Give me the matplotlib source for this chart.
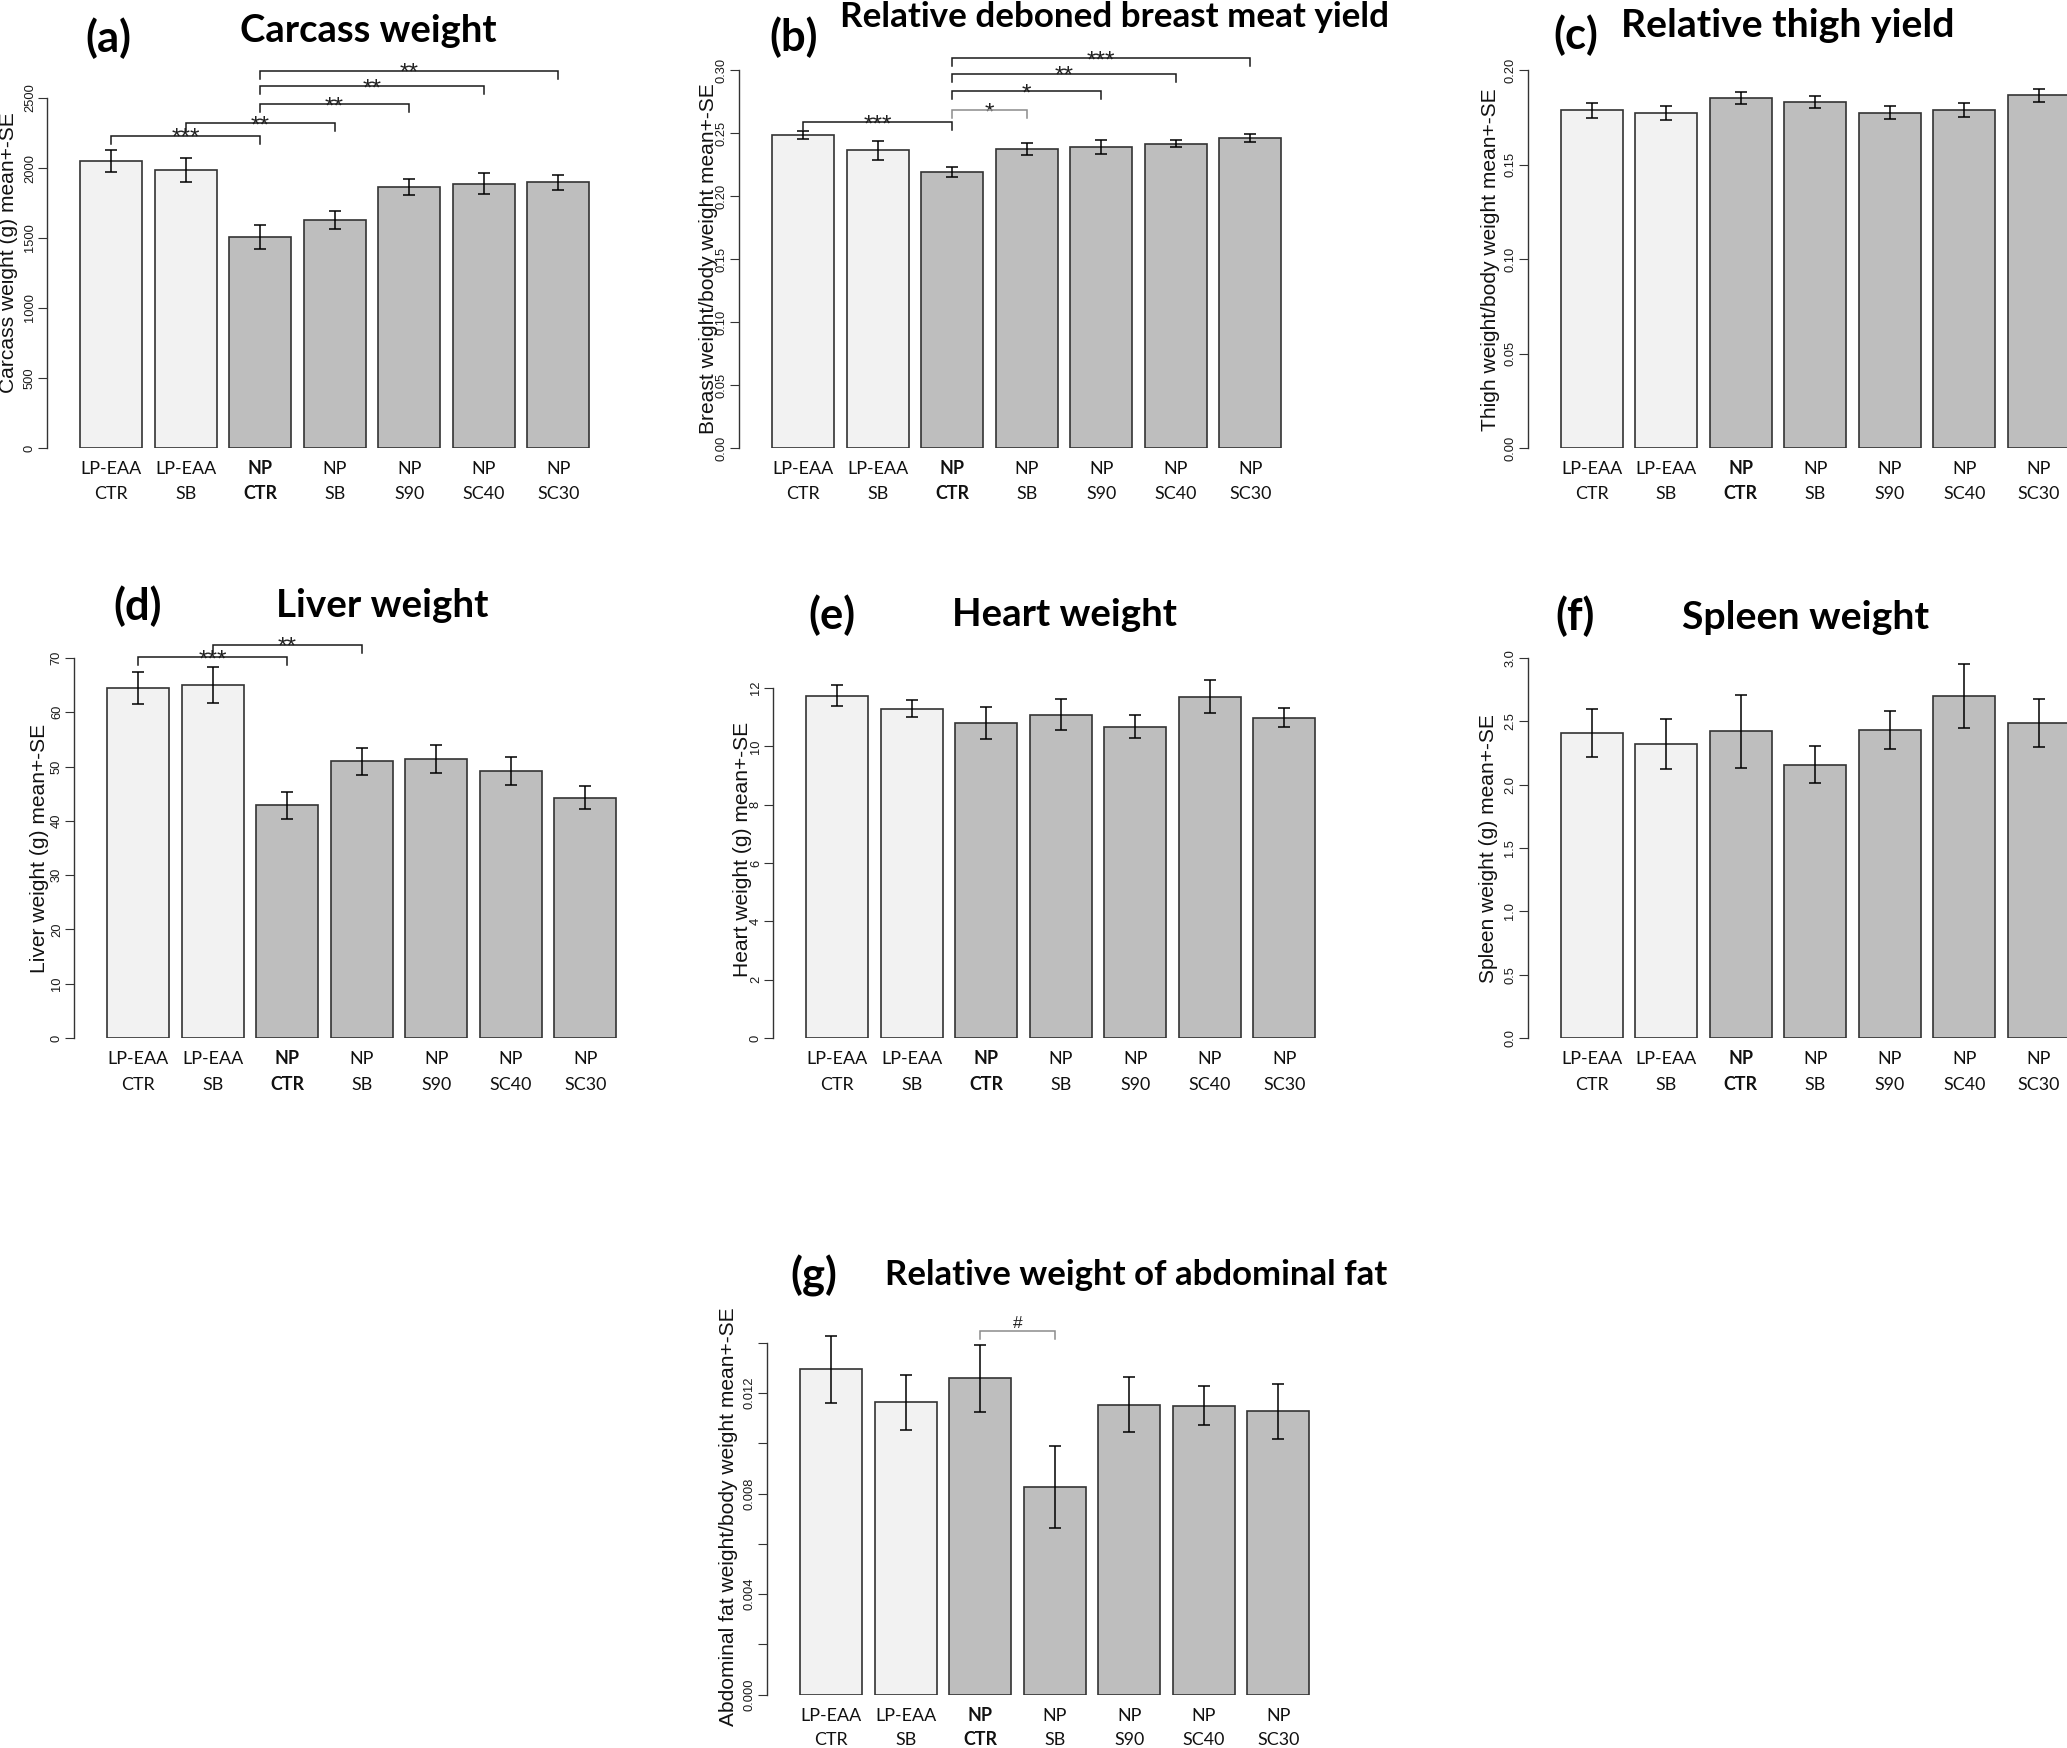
import matplotlib
matplotlib.use("Agg")
import matplotlib.pyplot as plt
from matplotlib import transforms
from matplotlib.font_manager import FontProperties, findfont
from matplotlib.textpath import TextToPath
import numpy as np

# ---------------- data ----------------
group_line1 = ["LP-EAA", "LP-EAA", "NP", "NP", "NP", "NP", "NP"]
group_line2 = ["CTR", "SB", "CTR", "SB", "S90", "SC40", "SC30"]
bold_group = 2  # NP CTR

carcass_mean = [2050, 1986, 1506, 1628, 1862, 1889, 1897]
carcass_se = [79, 88, 87, 66, 58, 74, 52]

breast_mean = [0.2487, 0.2363, 0.2189, 0.2371, 0.2389, 0.2416, 0.2461]
breast_se = [0.0032, 0.0077, 0.0038, 0.0049, 0.0054, 0.0025, 0.0035]

thigh_mean = [0.1787, 0.1774, 0.1854, 0.1831, 0.1774, 0.1787, 0.1866]
thigh_se = [0.0039, 0.0037, 0.0032, 0.0031, 0.0033, 0.0038, 0.0033]

liver_mean = [64.5, 65.1, 42.9, 51.0, 51.4, 49.2, 44.3]
liver_se = [2.9, 3.3, 2.5, 2.5, 2.55, 2.6, 2.05]

heart_mean = [11.74, 11.29, 10.80, 11.09, 10.68, 11.70, 10.98]
heart_se = [0.35, 0.30, 0.55, 0.54, 0.41, 0.57, 0.32]

spleen_mean = [2.406, 2.324, 2.420, 2.159, 2.434, 2.700, 2.485]
spleen_se = [0.19, 0.197, 0.29, 0.145, 0.15, 0.25, 0.19]

fat_mean = [0.01295, 0.01164, 0.01260, 0.00828, 0.01155, 0.01151, 0.01128]
fat_se = [0.00132, 0.0011, 0.00134, 0.00163, 0.0011, 0.00077, 0.00109]

carcass_ticks = [0, 500, 1000, 1500, 2000, 2500]
carcass_ticklabels = ["0", "500", "1000", "1500", "2000", "2500"]
breast_ticks = [0.00, 0.05, 0.10, 0.15, 0.20, 0.25, 0.30]
breast_ticklabels = ["0.00", "0.05", "0.10", "0.15", "0.20", "0.25", "0.30"]
thigh_ticks = [0.00, 0.05, 0.10, 0.15, 0.20]
thigh_ticklabels = ["0.00", "0.05", "0.10", "0.15", "0.20"]
liver_ticks = [0, 10, 20, 30, 40, 50, 60, 70]
liver_ticklabels = ["0", "10", "20", "30", "40", "50", "60", "70"]
heart_ticks = [0, 2, 4, 6, 8, 10, 12]
heart_ticklabels = ["0", "2", "4", "6", "8", "10", "12"]
spleen_ticks = [0.0, 0.5, 1.0, 1.5, 2.0, 2.5, 3.0]
spleen_ticklabels = ["0.0", "0.5", "1.0", "1.5", "2.0", "2.5", "3.0"]
fat_ticks = [0.000, 0.002, 0.004, 0.006, 0.008, 0.010, 0.012, 0.014]
fat_ticklabels = ["0.000", "", "0.004", "", "0.008", "", "0.012", ""]

# significance brackets: (from group, to group, height, label)
carcass_sig = [(0, 2, 2231, "***"), (1, 3, 2321, "**"), (2, 4, 2457, "**"),
               (2, 5, 2583, "**"), (2, 6, 2695, "**")]
breast_sig = [(0, 2, 0.2585, "***"), (2, 3, 0.2680, "*"), (2, 4, 0.2831, "*"),
              (2, 5, 0.2971, "**"), (2, 6, 0.3095, "***")]
liver_sig = [(0, 2, 70.13, "***"), (1, 3, 72.44, "**")]
fat_sig = [(2, 3, 0.014464, "#")]

titles = ["Carcass weight", "Relative deboned breast meat yield", "Relative thigh yield",
          "Liver weight", "Heart weight", "Spleen weight", "Relative weight of abdominal fat"]
panel_letters = ["(a)", "(b)", "(c)", "(d)", "(e)", "(f)", "(g)"]
ylabels = ["Carcass weight (g) mean+-SE", "Breast weight/body weight mean+-SE",
           "Thigh weight/body weight mean+-SE", "Liver weight (g) mean+-SE",
           "Heart weight (g) mean+-SE", "Spleen weight (g) mean+-SE",
           "Abdominal fat weight/body weight mean+-SE"]

# ---------------- layout / style ----------------
W, H = 2067, 1748
DPI = 100
plt.rcParams['font.family'] = ['Liberation Sans', 'DejaVu Sans']

fig = plt.figure(figsize=(W / DPI, H / DPI), dpi=DPI)
fig.patch.set_facecolor('white')

ttp = TextToPath()
PX_PER_PT = DPI / 72.0


def fit_size(s, family, weight, target_px):
    prop = FontProperties(family=family, weight=weight, size=10)
    w, h, d = ttp.get_text_width_height_descent(s, prop, ismath=False)
    return 10.0 * target_px / (w * PX_PER_PT)


def fx(px):
    return px / W


def fy(py):
    return 1.0 - py / H


# tick-label font: narrow sans if present (the reference's rotated labels look condensed)
try:
    findfont(FontProperties(family='Liberation Sans Narrow'), fallback_to_default=False)
    TICKFONT = 'Liberation Sans Narrow'
    tick_size = 10.2
except Exception:
    TICKFONT = 'Liberation Sans'
    tick_size = 9.3

UNIT = 62.1          # pixels per bar unit (R barplot: width 1, space 0.2)
LIGHT = '#F2F2F2'
DARK = '#BEBEBE'
EDGE = '#333333'
xpos = [0.7 + 1.2 * i for i in range(7)]
bar_colors = [LIGHT, LIGHT, DARK, DARK, DARK, DARK, DARK]

XFONT = 'Lato'
xl_size = fit_size("LP-EAA", XFONT, 'normal', 61)
ylab_sizes = []
ylab_spec = [(9, 253, 267), (708, 259, 348), (1490, 260, 344), (40, 848, 250),
             (742, 849, 255), (1488, 849, 270), (728, 1517, 415)]
for lab, (cx, cy, L) in zip(ylabels, ylab_spec):
    ylab_sizes.append(fit_size(lab, 'Liberation Sans', 'normal', L))
ylab_size = float(np.median(ylab_sizes))

letter_size = fit_size("(a)", 'Lato', 'bold', 46)

# panel geometry: axis x, zero pixel, top-tick pixel, top value, label line pixels
panels = [
    dict(ax_x=47, y0=448, ytop=98, vtop=2500, lines=(468, 493)),
    dict(ax_x=739, y0=448, ytop=70, vtop=0.30, lines=(468, 493)),
    dict(ax_x=1527.5, y0=448, ytop=70, vtop=0.20, lines=(468, 493)),
    dict(ax_x=74, y0=1038, ytop=658, vtop=70, lines=(1058, 1084)),
    dict(ax_x=773, y0=1038, ytop=688, vtop=12, lines=(1058, 1084)),
    dict(ax_x=1527.5, y0=1038, ytop=658, vtop=3.0, lines=(1058, 1084)),
    dict(ax_x=767, y0=1694.5, ytop=1343, vtop=0.014, lines=(1715, 1739)),
]
means = [carcass_mean, breast_mean, thigh_mean, liver_mean, heart_mean, spleen_mean, fat_mean]
ses = [carcass_se, breast_se, thigh_se, liver_se, heart_se, spleen_se, fat_se]
ticks = [carcass_ticks, breast_ticks, thigh_ticks, liver_ticks, heart_ticks, spleen_ticks, fat_ticks]
ticklabels = [carcass_ticklabels, breast_ticklabels, thigh_ticklabels, liver_ticklabels,
              heart_ticklabels, spleen_ticklabels, fat_ticklabels]
sigs = [carcass_sig, breast_sig, None, liver_sig, None, None, fat_sig]
grey_brackets = {(1, 1), (6, 0)}   # (panel, bracket index) drawn in grey

title_spec = [(368.5, 28, 257), (1114, 14, 548), (1788, 23.5, 333), (382, 603, 212),
              (1064, 612, 225), (1806, 615, 247), (1136, 1273, 503)]
letter_spec = [(108.5, 38), (793.5, 37), (1576, 35), (137.5, 606), (831.5, 615),
               (1575, 616), (813.5, 1276)]

for k, p in enumerate(panels):
    bar1_left = p['ax_x'] + 33
    xmin = 0.2 - 33 / UNIT
    xmax = 8.6
    right_px = bar1_left + (xmax - 0.2) * UNIT
    ax = fig.add_axes([fx(p['ax_x']), fy(p['y0']), (right_px - p['ax_x']) / W,
                       (p['y0'] - p['ytop']) / H])
    ax.set_xlim(xmin, xmax)
    ax.set_ylim(0, p['vtop'])
    ax.patch.set_alpha(0)

    ax.bar(xpos, means[k], width=1.0, color=bar_colors, edgecolor=EDGE,
           linewidth=1.2, zorder=2)
    eb = ax.errorbar(xpos, means[k], yerr=ses[k], fmt='none', ecolor='black',
                     elinewidth=1.1, capsize=4, capthick=1.1, zorder=3)
    for a in eb.get_children():
        a.set_clip_on(False)

    for s in ['top', 'right', 'bottom']:
        ax.spines[s].set_visible(False)
    ax.spines['left'].set_color(EDGE)
    ax.spines['left'].set_linewidth(1.0)
    ax.spines['left'].set_bounds(0, p['vtop'])
    ax.set_xticks([])
    ax.set_yticks(ticks[k])
    ax.set_yticklabels(ticklabels[k], fontfamily=TICKFONT)
    ax.tick_params(axis='y', direction='out', length=6.5, width=0.8, color=EDGE,
                   pad=1.5, labelsize=tick_size, labelrotation=90, labelcolor='#1a1a1a')
    for lab in ax.get_yticklabels():
        lab.set_va('center')
        lab.set_ha('right')

    # group labels
    tr = transforms.blended_transform_factory(ax.transData, fig.transFigure)
    xl_px = xl_size * PX_PER_PT
    for i, x in enumerate(xpos):
        wt = 'bold' if i == bold_group else 'normal'
        for txt, ly in ((group_line1[i], p['lines'][0]), (group_line2[i], p['lines'][1])):
            ax.text(x, fy(ly + 0.358 * xl_px), txt, transform=tr, ha='center',
                    va='baseline', fontsize=xl_size, fontfamily=XFONT, fontweight=wt,
                    color='#111111', clip_on=False)

    # significance brackets
    if sigs[k]:
        d = 8.0 * p['vtop'] / (p['y0'] - p['ytop'])
        for b, (i, j, yv, lab) in enumerate(sigs[k]):
            col = '#8C8C8C' if (k, b) in grey_brackets else '#1a1a1a'
            xi, xj = xpos[i], xpos[j]
            ax.plot([xi, xi, xj, xj], [yv - d, yv, yv, yv - d], color=col, lw=1.1,
                    clip_on=False, zorder=4, solid_joinstyle='miter')
            if lab == '#':
                ax.annotate(lab, xy=((xi + xj) / 2, yv), xytext=(0, 2.2),
                            textcoords='offset points', ha='center', va='baseline',
                            fontsize=12.5, color='#222222', annotation_clip=False)
            else:
                ax.annotate(lab, xy=((xi + xj) / 2, yv), xytext=(0, -6.6),
                            textcoords='offset points', ha='center', va='baseline',
                            fontsize=17.5, color='#222222', annotation_clip=False)

    # y label
    cx, cy, L = ylab_spec[k]
    fig.text(fx(cx), fy(cy), ylabels[k], rotation=90, ha='center', va='center',
             fontsize=ylab_size, color='#111111')

    # title
    tx, tcy, tw = title_spec[k]
    tsz = fit_size(titles[k], 'Lato', 'bold', tw)
    fig.text(fx(tx), fy(tcy + 0.358 * tsz * PX_PER_PT), titles[k], ha='center',
             va='baseline', fontsize=tsz, fontfamily='Lato', fontweight='bold',
             color='black')

    # panel letter
    lx, lcy = letter_spec[k]
    fig.text(fx(lx), fy(lcy), panel_letters[k], ha='center', va='center',
             fontsize=letter_size, fontfamily='Lato', fontweight='bold', color='black')

fig.savefig("out.png", dpi=DPI, facecolor='white')
